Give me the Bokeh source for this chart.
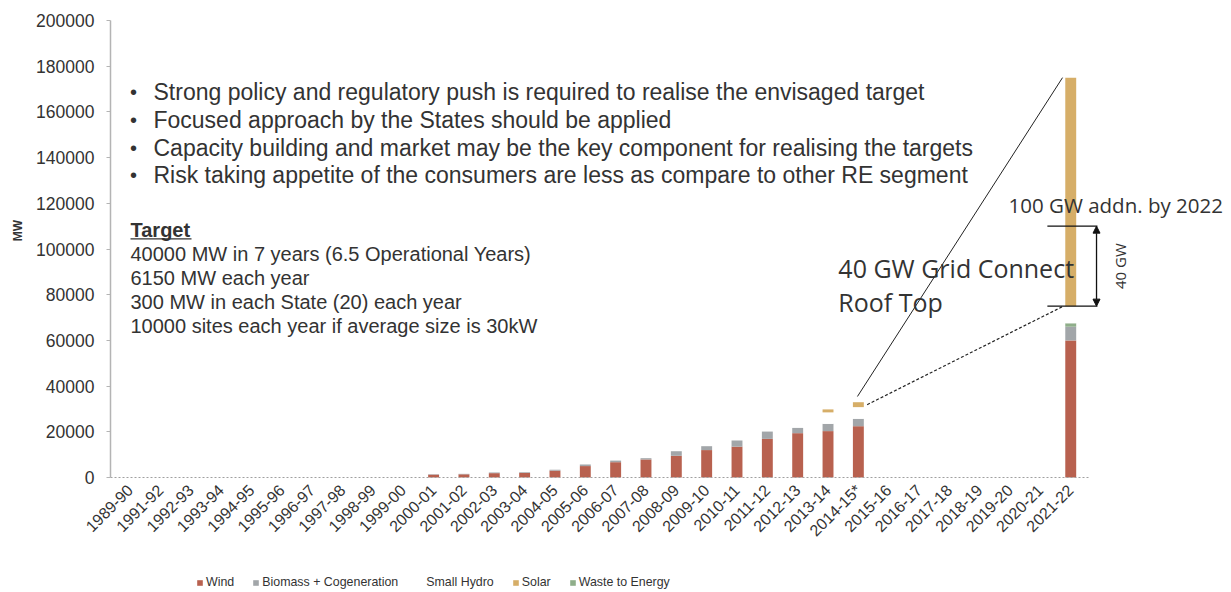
import math
from bokeh.plotting import figure
from bokeh.models import (Range1d, ColumnDataSource, Legend, LegendItem, Label, Arrow,
                          NormalHead, FixedTicker, NumeralTickFormatter)
from bokeh.embed import file_html
from bokeh.resources import INLINE

# ---------------- data (MW, cumulative) ----------------
years = ["1989-90", "1991-92", "1992-93", "1993-94", "1994-95", "1995-96", "1996-97",
         "1997-98", "1998-99", "1999-00", "2000-01", "2001-02", "2002-03", "2003-04",
         "2004-05", "2005-06", "2006-07", "2007-08", "2008-09", "2009-10", "2010-11",
         "2011-12", "2012-13", "2013-14", "2014-15*", "2015-16", "2016-17", "2017-18",
         "2018-19", "2019-20", "2020-21", "2021-22"]

wind = [0, 0, 0, 0, 0, 0, 0, 0, 0, 0,
        1250, 1400, 1900, 2000, 3000, 5000, 6700, 7900, 9500, 12000,
        13500, 16900, 19400, 20300, 22450,
        0, 0, 0, 0, 0, 0, 60000]
biomass = [0, 0, 0, 0, 0, 0, 0, 0, 0, 0,
           200, 200, 300, 300, 400, 700, 700, 550, 2000, 1700,
           2700, 3200, 2300, 3200, 3250,
           0, 0, 0, 0, 0, 0, 6000]
waste = [0, 0, 0, 0, 0, 0, 0, 0, 0, 0,
         0, 0, 0, 0, 0, 0, 0, 0, 0, 0,
         0, 0, 0, 0, 0,
         0, 0, 0, 0, 0, 0, 1500]
small_hydro = [0, 0, 0, 0, 0, 0, 0, 0, 0, 0,
               0, 0, 0, 0, 0, 0, 0, 0, 0, 0,
               0, 0, 0, 5000, 5100,
               0, 0, 0, 0, 0, 0, 7500]
solar = [0, 0, 0, 0, 0, 0, 0, 0, 0, 0,
         0, 0, 0, 0, 0, 0, 0, 0, 0, 0,
         0, 0, 0, 1300, 2150,
         0, 0, 0, 0, 0, 0, 100000]

y_ticks = [0, 20000, 40000, 60000, 80000, 100000, 120000, 140000, 160000, 180000, 200000]
y_max = 200000
grid_connect_top = 110000

bullets = [
    "Strong policy and regulatory push is required to realise the envisaged target",
    "Focused approach by the States should be applied",
    "Capacity building and market may be the key component for realising the targets",
    "Risk taking appetite of the consumers are less as compare to other RE segment",
]
target_title = "Target"
target_lines = [
    "40000 MW in 7 years (6.5 Operational Years)",
    "6150 MW each year",
    "300 MW in each State (20) each year",
    "10000 sites each year if average size is 30kW",
]

colors = {"wind": "#b8614f", "biomass": "#a2a6a9", "waste": "#8fae8a",
          "hydro": "#ffffff", "solar": "#d6ae68"}

FONT = "Liberation Sans"
CALLOUT_FONT = "Open Sans"
TXT = "#333333"

# category positions on a numeric axis (one unit per financial year)
xpos = list(range(len(years)))
src = ColumnDataSource(dict(x=xpos, wind=wind, biomass=biomass, waste=waste,
                            hydro=small_hydro, solar=solar))

# the frame fills the whole canvas; both axes are pinned inside it
x_lo, x_hi = -0.65, len(years) - 1 + 0.65
p = figure(x_range=Range1d(-4.2755, 36.20), y_range=Range1d(-49453, 208753),
           width=1228, height=590, output_backend="svg", toolbar_location=None,
           min_border=0)

p.outline_line_color = None
p.xgrid.visible = False
p.ygrid.visible = False
p.background_fill_color = "white"

stack_keys = ["wind", "biomass", "waste", "hydro", "solar"]
rs = p.vbar_stack(stack_keys, x="x", width=0.36, source=src,
                  fill_color=[colors[k] for k in stack_keys], line_color=None)
r = dict(zip(stack_keys, rs))

# y axis
p.yaxis.fixed_location = x_lo
p.yaxis.bounds = (0, y_max)
p.yaxis.ticker = FixedTicker(ticks=y_ticks)
p.yaxis.formatter = NumeralTickFormatter(format="0")
p.yaxis.major_label_text_font = FONT
p.yaxis.major_label_text_font_size = "17.5px"
p.yaxis.major_label_text_color = TXT
p.yaxis.axis_line_color = "#b4b4b4"
p.yaxis.axis_line_width = 1.5
p.yaxis.major_tick_line_color = "#b4b4b4"
p.yaxis.major_tick_out = 4
p.yaxis.major_tick_in = 0
p.yaxis.minor_tick_line_color = None
p.yaxis.major_label_standoff = 12

# x axis
p.xaxis.fixed_location = 0
p.xaxis.bounds = (x_lo, x_hi)
p.xaxis.ticker = FixedTicker(ticks=xpos)
p.xaxis.major_label_overrides = {i: y for i, y in zip(xpos, years)}
p.xaxis.major_label_orientation = math.pi / 4
p.xaxis.major_label_text_font = FONT
p.xaxis.major_label_text_font_size = "16px"
p.xaxis.major_label_text_color = TXT
p.xaxis.major_tick_line_color = None
p.xaxis.minor_tick_line_color = None
p.xaxis.axis_line_color = "#a0a0a0"
p.xaxis.axis_line_dash = "2 2"
p.xaxis.major_label_standoff = 4

# y axis title
p.add_layout(Label(x=-3.715, y=108100, text="MW", angle=math.pi / 2, text_align="center",
                   text_baseline="middle", text_font=FONT, text_font_size="12px",
                   text_font_style="bold", text_color=TXT))

# legend (screen offset from the frame's bottom-left corner)
legend = Legend(items=[
    LegendItem(label="Wind", renderers=[r["wind"]]),
    LegendItem(label="Biomass + Cogeneration", renderers=[r["biomass"]]),
    LegendItem(label="Small Hydro", renderers=[r["hydro"]]),
    LegendItem(label="Solar", renderers=[r["solar"]]),
    LegendItem(label="Waste to Energy", renderers=[r["waste"]]),
], orientation="horizontal", location=(196, 1), glyph_width=7, glyph_height=7,
    label_standoff=3, spacing=18, padding=0, margin=0, label_height=14,
    border_line_color=None, background_fill_alpha=0,
    label_text_font=FONT, label_text_font_size="12.4px", label_text_color=TXT)
p.add_layout(legend)

# bullet text
y0, dy = 168600, 12100
for k, line in enumerate(bullets):
    yy = y0 - k * dy
    p.add_layout(Label(x=0.108, y=yy, text="\u2022", text_align="center",
                       text_baseline="middle", text_font=FONT, text_font_size="20px",
                       text_color=TXT))
    p.add_layout(Label(x=0.767, y=yy, text=line, text_baseline="middle",
                       text_font=FONT, text_font_size="23px", text_color=TXT))

# target block
p.add_layout(Label(x=0.009, y=108100, text=target_title, text_baseline="middle",
                   text_font=FONT, text_font_size="20px", text_font_style="bold",
                   text_color=TXT))
p.add_layout(Arrow(end=None, x_start=0.009, y_start=104400, x_end=2.02, y_end=104400,
                   line_color=TXT, line_width=1.3))
for k, line in enumerate(target_lines):
    p.add_layout(Label(x=0.009, y=98000 - k * 10500, text=line, text_baseline="middle",
                       text_font=FONT, text_font_size="20px", text_color=TXT))

# callout geometry derived from the data
i14 = years.index("2014-15*")
i21 = years.index("2021-22")
c14, c21 = xpos[i14], xpos[i21]
top14 = wind[i14] + biomass[i14] + waste[i14] + small_hydro[i14] + solar[i14]
solar_mid14 = top14 - solar[i14] / 2
top21 = wind[i21] + biomass[i21] + waste[i21] + small_hydro[i21] + solar[i21]
solar_base21 = top21 - solar[i21]

p.add_layout(Arrow(end=None, x_start=c14 - 0.03, y_start=top14 + 2500,
                   x_end=c21 - 0.27, y_end=top21, line_color="#222222", line_width=1))
p.add_layout(Arrow(end=None, x_start=c14 + 0.29, y_start=solar_mid14,
                   x_end=c21 - 0.24, y_end=solar_base21, line_color="#222222",
                   line_width=1.2, line_dash="3 2"))
for yy in (grid_connect_top, solar_base21):
    p.add_layout(Arrow(end=None, x_start=c21 - 0.77, y_start=yy, x_end=c21 + 0.88,
                       y_end=yy, line_color="#111111", line_width=1.3))
p.add_layout(Arrow(start=NormalHead(size=7, fill_color="#111111", line_color="#111111"),
                   end=NormalHead(size=7, fill_color="#111111", line_color="#111111"),
                   x_start=c21 + 0.85, y_start=solar_base21, x_end=c21 + 0.85,
                   y_end=grid_connect_top, line_color="#111111", line_width=1.3))
p.add_layout(Label(x=c21 + 1.64, y=(solar_base21 + grid_connect_top) / 2, text="40 GW",
                   angle=math.pi / 2, text_align="center", text_baseline="middle",
                   text_font=CALLOUT_FONT, text_font_size="15px", text_color=TXT))

p.add_layout(Label(x=28.95, y=119040, text="100 GW addn. by 2022", text_baseline="middle",
                   text_font=CALLOUT_FONT, text_font_size="20.5px", text_color=TXT))
p.add_layout(Label(x=23.34, y=91470, text="40 GW Grid Connect", text_baseline="middle",
                   text_font=CALLOUT_FONT, text_font_size="25px", text_color=TXT))
p.add_layout(Label(x=23.34, y=76590, text="Roof Top", text_baseline="middle",
                   text_font=CALLOUT_FONT, text_font_size="25px", text_color=TXT))

open("out.html", "w").write(file_html(p, INLINE))
